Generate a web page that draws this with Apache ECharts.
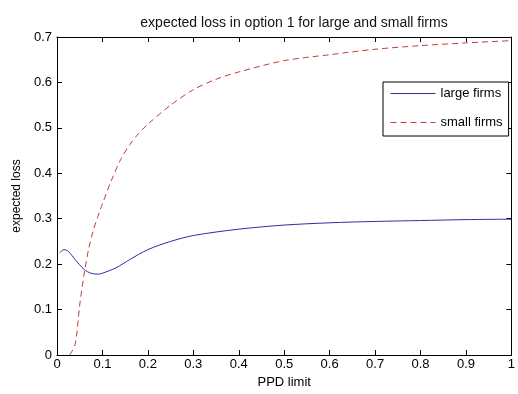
<!DOCTYPE html>
<html><head><meta charset="utf-8">
<script src="https://cdn.jsdelivr.net/npm/echarts@6/dist/echarts.min.js"></script>
<style>html,body{margin:0;padding:0;background:#fff}#c{width:518px;height:394px}</style>
</head><body><div id="c"></div>
<script>
const largeX = [0.006,0.015,0.025,0.04,0.06,0.075,0.09,0.1,0.13,0.16,0.2,0.25,0.3,0.4,0.5,0.6,0.7,0.8,0.9,1.0];
const largeY = [0.225,0.232,0.228,0.21,0.188,0.18,0.178,0.18,0.192,0.21,0.232,0.25,0.263,0.277,0.286,0.291,0.294,0.296,0.298,0.299];
const smallX = [0.028,0.04,0.05,0.06,0.07,0.08,0.09,0.1,0.12,0.14,0.16,0.18,0.2,0.25,0.3,0.35,0.4,0.5,0.6,0.7,0.8,0.9,1.0];
const smallY = [0,0.024,0.11,0.18,0.235,0.275,0.305,0.333,0.385,0.43,0.463,0.488,0.508,0.55,0.584,0.607,0.623,0.648,0.661,0.673,0.681,0.687,0.692];
const seriesNames = ['large firms','small firms'];
const titleText = 'expected loss in option 1 for large and small firms';
const xName = 'PPD limit', yName = 'expected loss';

const font = 'Liberation Sans, Arial, sans-serif';
const zip = (xs, ys) => xs.map((x, i) => [x, ys[i]]);
const chart = echarts.init(document.getElementById('c'));
const axBase = {
  type: 'value', min: 0, max: 1, interval: 0.1,
  axisLine: { show: true, onZero: false, lineStyle: { color: '#000', width: 1 } },
  axisTick: { show: true, inside: true, length: 5, lineStyle: { color: '#000' } },
  splitLine: { show: false }
};
chart.setOption({
  animation: false,
  backgroundColor: '#fff',
  title: { text: titleText, left: 289, top: 11, textAlign: 'center',
    textStyle: { fontFamily: font, fontSize: 14, fontWeight: 'normal', color: '#111' } },
  grid: { left: 57, right: 2, top: 37, bottom: 37, containLabel: false },
  legend: {
    data: seriesNames, orient: 'vertical', left: 383, top: 82,
    itemWidth: 45, itemHeight: 14, itemGap: 16, padding: [5, 6, 7, 7],
    borderColor: '#000', borderWidth: 1, backgroundColor: '#fff',
    itemStyle: { opacity: 0 },
    lineStyle: { width: 1 },
    textStyle: { fontFamily: font, fontSize: 13, color: '#000' }
  },
  xAxis: [
    Object.assign({}, axBase, { position: 'bottom', name: xName, nameLocation: 'middle', nameGap: 21,
      nameTextStyle: { fontFamily: font, fontSize: 13, color: '#000' },
      axisLabel: { show: true, color: '#000', fontFamily: font, fontSize: 13, margin: 3,
        formatter: v => +v.toFixed(1) + '' } }),
    Object.assign({}, axBase, { position: 'top', axisLabel: { show: false } })
  ],
  yAxis: [
    Object.assign({}, axBase, { max: 0.7, position: 'left', name: yName, nameLocation: 'middle', nameGap: 34,
      nameTextStyle: { fontFamily: font, fontSize: 12, color: '#000' },
      axisLabel: { show: true, color: '#000', fontFamily: font, fontSize: 13, margin: 5,
        formatter: v => +v.toFixed(1) + '' } }),
    Object.assign({}, axBase, { max: 0.7, position: 'right', axisLabel: { show: false } })
  ],
  series: [
    { name: seriesNames[0], type: 'line', data: zip(largeX, largeY), smooth: 0.3, symbol: 'none',
      color: '#2e2ea0', lineStyle: { color: '#2e2ea0', width: 1 } },
    { name: seriesNames[1], type: 'line', data: zip(smallX, smallY), smooth: 0.3, symbol: 'none',
      color: '#c83a3a', lineStyle: { color: '#c83a3a', width: 1, type: [6, 4] } }
  ]
});
</script></body></html>
